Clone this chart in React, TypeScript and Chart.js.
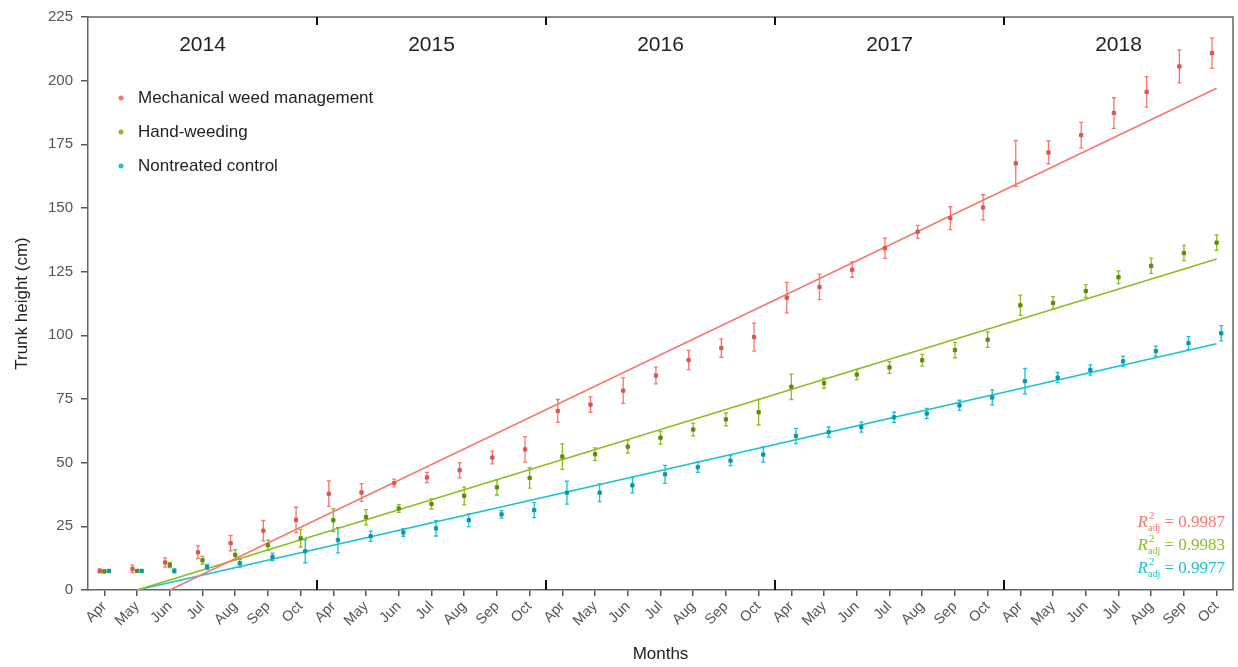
import React, { useEffect, useRef } from 'react';
import { Chart, registerables } from 'chart.js';

Chart.register(...registerables);

const months = ['Apr', 'May', 'Jun', 'Jul', 'Aug', 'Sep', 'Oct'];
const years = ['2014', '2015', '2016', '2017', '2018'];
const categories = years.flatMap(() => months);

const seriesNames = ['Mechanical weed management', 'Hand-weeding', 'Nontreated control'];
const seriesColors = ['#F8766D', '#8DBE1E', '#19C2D2'];
const pointColors = ['#D9574F', '#5F8A0E', '#0A98A6'];

const mechanical = [
  7.5, 8.3, 10.8, 14.8, 18.4, 23.3, 27.5,
  37.8, 38.3, 42.0, 44.2, 47.0, 52.0, 55.2,
  70.3, 72.8, 78.3, 84.2, 90.3, 95.0, 99.3,
  114.8, 119.0, 125.8, 134.2, 140.7, 146.0, 150.2,
  167.5, 171.8, 178.6, 187.3, 195.6, 205.6, 210.8,
];
const mechanicalErr = [
  0.8, 1.5, 1.8, 2.5, 3.0, 4.0, 5.0,
  5.0, 3.5, 1.5, 2.0, 3.0, 2.5, 5.0,
  4.5, 3.0, 5.0, 3.3, 3.8, 3.6, 5.5,
  6.0, 5.0, 3.0, 4.0, 2.5, 4.5, 5.0,
  9.0, 4.5, 5.0, 6.0, 6.0, 6.5, 6.0,
];
const handWeeding = [
  7.3, 7.5, 9.8, 11.7, 13.8, 17.6, 20.3,
  27.4, 28.6, 32.0, 33.8, 37.0, 40.3, 44.0,
  52.4, 53.3, 56.3, 59.8, 63.0, 67.0, 69.8,
  79.8, 81.2, 84.6, 87.4, 90.2, 94.2, 98.3,
  111.8, 112.7, 117.4, 122.8, 127.3, 132.3, 136.4,
];
const handWeedingErr = [
  0.5, 0.5, 1.0, 1.5, 2.0, 2.0, 3.5,
  4.5, 3.0, 1.5, 2.0, 3.5, 3.0, 4.0,
  5.0, 2.5, 2.5, 2.5, 2.5, 2.5, 5.0,
  5.0, 2.0, 2.0, 2.3, 2.3, 3.0, 3.0,
  4.0, 2.5, 2.5, 2.5, 3.0, 3.0, 3.0,
];
const control = [
  7.5, 7.5, 7.5, 9.0, 10.5, 13.0, 15.2,
  19.6, 21.1, 22.6, 24.2, 27.4, 29.7, 31.4,
  38.2, 38.2, 41.1, 45.4, 48.2, 50.8, 53.2,
  60.5, 62.0, 64.0, 67.8, 69.3, 72.5, 75.6,
  82.0, 83.4, 86.4, 89.8, 93.8, 97.0, 100.8,
];
const controlErr = [
  0.5, 0.5, 0.8, 1.0, 1.5, 1.5, 4.5,
  5.0, 2.0, 1.5, 3.0, 2.5, 1.5, 3.0,
  4.5, 3.5, 3.0, 3.5, 2.0, 2.0, 3.0,
  3.0, 2.0, 2.0, 2.0, 2.0, 2.0, 3.0,
  5.0, 2.0, 2.0, 2.0, 2.0, 2.5, 3.0,
];

const seriesValues = [mechanical, handWeeding, control];
const seriesErrors = [mechanicalErr, handWeedingErr, controlErr];
const dodge = [-0.14, 0, 0.14];

// linear fits: start index (value 0) and value at last month
const fitStart = [2, 1, 1];
const fitEndValue = [197, 130, 96.7];
const r2Values = ['0.9987', '0.9983', '0.9977'];

const yTicks = [0, 25, 50, 75, 100, 125, 150, 175, 200, 225];

const FONT = "'Liberation Sans', Arial, sans-serif";
const SERIF = "'Liberation Serif', 'Times New Roman', serif";

const decorPlugin = {
  id: 'decor',
  beforeDatasetsDraw(chart: any) {
    const { ctx, scales } = chart;
    const xs = scales.x;
    const ys = scales.y;
    chart.data.datasets.forEach((ds: any) => {
      if (!ds.errors) return;
      ctx.save();
      ctx.strokeStyle = ds.errColor;
      ctx.lineWidth = 1.3;
      ds.data.forEach((pt: any, i: number) => {
        const e = ds.errors[i];
        const x = xs.getPixelForValue(pt.x);
        const yt = ys.getPixelForValue(pt.y + e);
        const yb = ys.getPixelForValue(pt.y - e);
        ctx.beginPath();
        ctx.moveTo(x, yt);
        ctx.lineTo(x, yb);
        ctx.moveTo(x - 2, yt);
        ctx.lineTo(x + 2, yt);
        ctx.moveTo(x - 2, yb);
        ctx.lineTo(x + 2, yb);
        ctx.stroke();
      });
      ctx.restore();
    });
  },
  afterDraw(chart: any) {
    const { ctx, chartArea, scales } = chart;
    const xs = scales.x;
    const { left, right, top, bottom } = chartArea;
    ctx.save();
    ctx.strokeStyle = '#666';
    ctx.lineWidth = 1.5;
    ctx.beginPath();
    ctx.moveTo(left, top);
    ctx.lineTo(right, top);
    ctx.lineTo(right, bottom);
    ctx.stroke();

    ctx.strokeStyle = '#111';
    ctx.lineWidth = 2;
    for (let k = 1; k < years.length; k++) {
      const x = xs.getPixelForValue(k * months.length - 0.5);
      ctx.beginPath();
      ctx.moveTo(x, top);
      ctx.lineTo(x, top + 8);
      ctx.moveTo(x, bottom);
      ctx.lineTo(x, bottom - 10);
      ctx.stroke();
    }
    ctx.fillStyle = '#222';
    ctx.font = `21px ${FONT}`;
    ctx.textAlign = 'center';
    ctx.textBaseline = 'middle';
    years.forEach((yr, k) => {
      const x = xs.getPixelForValue(k * months.length + (months.length - 1) / 2);
      ctx.fillText(yr, x, top + 28);
    });

    ctx.textAlign = 'left';
    ctx.font = `17px ${FONT}`;
    const legendY = [top + 81, top + 115, top + 149];
    seriesNames.forEach((name, i) => {
      ctx.fillStyle = seriesColors[i];
      ctx.beginPath();
      ctx.arc(left + 33, legendY[i], 2.5, 0, Math.PI * 2);
      ctx.fill();
      ctx.fillStyle = '#222';
      ctx.fillText(name, left + 50, legendY[i]);
    });

    const rY = [bottom - 68, bottom - 45, bottom - 22];
    r2Values.forEach((val, i) => {
      const rest = ' = ' + val;
      ctx.font = `italic 17px ${SERIF}`;
      const wR = ctx.measureText('R').width;
      ctx.font = `11px ${SERIF}`;
      const w2 = ctx.measureText('2').width;
      ctx.font = `10px ${SERIF}`;
      const wAdj = ctx.measureText('adj').width;
      ctx.font = `17px ${SERIF}`;
      const wRest = ctx.measureText(rest).width;
      const total = wR + Math.max(w2, wAdj) + wRest;
      let x = right - 8 - total;
      const y = rY[i];
      ctx.fillStyle = seriesColors[i];
      ctx.textBaseline = 'alphabetic';
      ctx.font = `italic 17px ${SERIF}`;
      ctx.fillText('R', x, y + 5);
      x += wR;
      ctx.font = `11px ${SERIF}`;
      ctx.fillText('2', x + 1, y - 3);
      ctx.font = `10px ${SERIF}`;
      ctx.fillText('adj', x, y + 9);
      x += Math.max(w2, wAdj);
      ctx.font = `17px ${SERIF}`;
      ctx.fillText(rest, x, y + 5);
    });
    ctx.restore();
  },
};

export default function App() {
  const canvasRef = useRef<HTMLCanvasElement | null>(null);

  useEffect(() => {
    if (!canvasRef.current) return;
    const lastIndex = categories.length - 1;
    const datasets: any[] = [];
    seriesNames.forEach((name, s) => {
      datasets.push({
        type: 'line',
        label: name + ' fit',
        data: [
          { x: fitStart[s], y: 0 },
          { x: lastIndex, y: fitEndValue[s] },
        ],
        borderColor: seriesColors[s],
        borderWidth: 1.6,
        pointRadius: 0,
        fill: false,
        order: 2,
      });
    });
    seriesNames.forEach((name, s) => {
      datasets.push({
        type: 'scatter',
        label: name,
        data: seriesValues[s].map((v, i) => ({ x: i + dodge[s], y: v })),
        errors: seriesErrors[s],
        errColor: seriesColors[s],
        backgroundColor: pointColors[s],
        borderColor: pointColors[s],
        pointRadius: 2.3,
        pointStyle: 'rect',
        order: 1,
      });
    });

    const chart = new Chart(canvasRef.current, {
      data: { datasets },
      options: {
        animation: false,
        responsive: false,
        devicePixelRatio: 1,
        layout: { padding: { top: 13, right: 5, left: 0, bottom: 0 } },
        plugins: {
          legend: { display: false },
          tooltip: { enabled: false },
        },
        scales: {
          x: {
            type: 'linear',
            min: -0.5,
            max: categories.length - 0.5,
            afterBuildTicks: (scale: any) => {
              scale.ticks = categories.map((_, i) => ({ value: i }));
            },
            afterFit: (scale: any) => {
              scale.height = 77;
            },
            ticks: {
              autoSkip: false,
              maxRotation: 45,
              minRotation: 45,
              color: '#555',
              padding: 2,
              font: { family: FONT, size: 14.5 },
              callback: (v: any) => categories[Math.round(Number(v))] ?? '',
            },
            grid: {
              drawOnChartArea: false,
              drawTicks: true,
              tickLength: 6,
              color: '#555',
              lineWidth: 1.5,
            },
            border: { display: true, color: '#666', width: 1.5 },
            title: {
              display: true,
              text: 'Months',
              color: '#222',
              font: { family: FONT, size: 17 },
              padding: { top: 0, bottom: 2 },
            },
          },
          y: {
            type: 'linear',
            min: 0,
            max: 225,
            afterBuildTicks: (scale: any) => {
              scale.ticks = yTicks.map((v) => ({ value: v }));
            },
            afterFit: (scale: any) => {
              scale.width = 88;
            },
            ticks: {
              color: '#555',
              padding: 8,
              font: { family: FONT, size: 15 },
            },
            grid: {
              drawOnChartArea: false,
              drawTicks: true,
              tickLength: 7,
              color: '#555',
              lineWidth: 1.5,
            },
            border: { display: true, color: '#666', width: 1.5 },
            title: {
              display: true,
              text: 'Trunk height (cm)',
              color: '#222',
              font: { family: FONT, size: 17 },
              padding: { top: 12.5, bottom: 0 },
            },
          },
        },
      },
      plugins: [decorPlugin],
    } as any);

    return () => chart.destroy();
  }, []);

  return (
    <div style={{ position: 'fixed', left: 0, top: 0, width: 1238, height: 667, background: '#fff' }}>
      <canvas ref={canvasRef} width={1238} height={667} />
    </div>
  );
}
